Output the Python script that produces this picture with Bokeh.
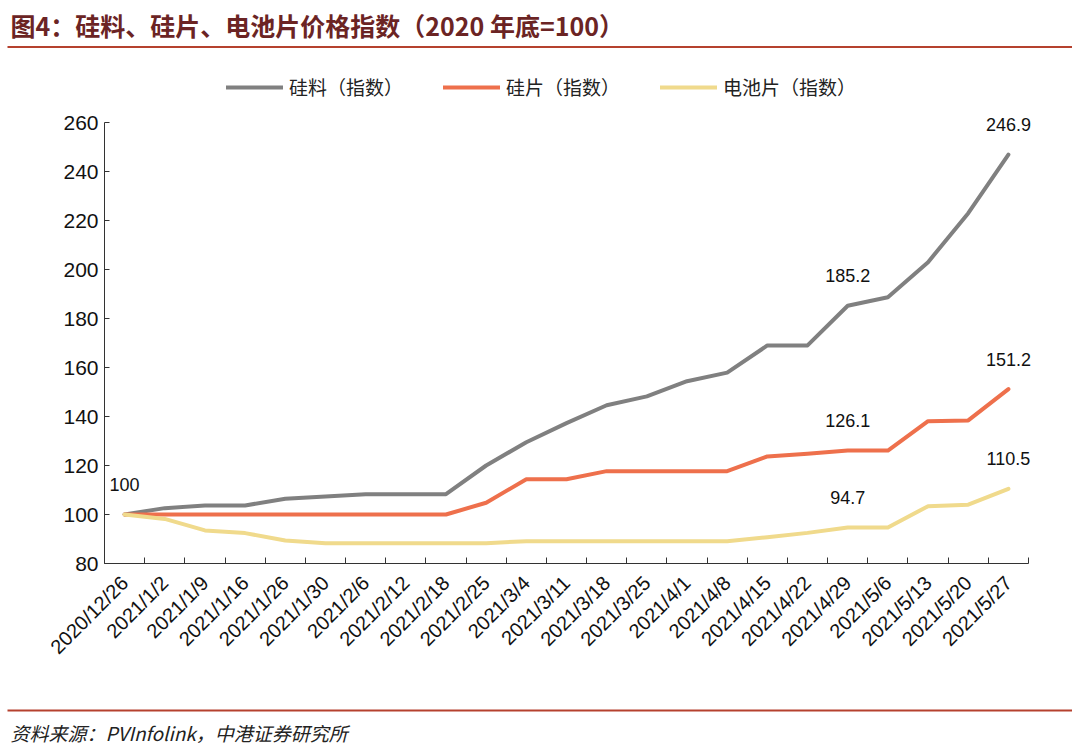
import math
from bokeh.plotting import figure
from bokeh.layouts import column
from bokeh.models import (Range1d, FixedTicker, Label, LabelSet, ColumnDataSource,
                          Legend, LegendItem, BoxAnnotation)
from bokeh.core.properties import value
from bokeh.embed import file_html
from bokeh.resources import INLINE

# ---------------- data ----------------
dates = ["2020/12/26", "2021/1/2", "2021/1/9", "2021/1/16", "2021/1/26", "2021/1/30",
         "2021/2/6", "2021/2/12", "2021/2/18", "2021/2/25", "2021/3/4", "2021/3/11",
         "2021/3/18", "2021/3/25", "2021/4/1", "2021/4/8", "2021/4/15", "2021/4/22",
         "2021/4/29", "2021/5/6", "2021/5/13", "2021/5/20", "2021/5/27"]
polysilicon = [100, 102.6, 103.7, 103.7, 106.4, 107.3, 108.3, 108.3, 108.3, 120.0,
               129.5, 137.3, 144.6, 148.2, 154.4, 157.9, 169.0, 169.0, 185.2, 188.7,
               203.0, 223.0, 246.9]
wafer = [100, 100, 100, 100, 100, 100, 100, 100, 100, 104.8,
         114.4, 114.4, 117.7, 117.7, 117.7, 117.7, 123.7, 124.8, 126.1, 126.1,
         138.1, 138.4, 151.2]
cell = [100, 98.2, 93.5, 92.4, 89.4, 88.3, 88.3, 88.3, 88.3, 88.3,
        89.1, 89.1, 89.1, 89.1, 89.1, 89.1, 90.7, 92.5, 94.7, 94.7,
        103.4, 104.0, 110.5]
series_names = ["硅料（指数）", "硅片（指数）", "电池片（指数）"]
y_ticks = [80, 100, 120, 140, 160, 180, 200, 220, 240, 260]
labelled_points = [18, 22]          # indices annotated with values
title_text = "图4：硅料、硅片、电池片价格指数（2020 年底=100）"
source_text = "资料来源：PVInfolink，中港证券研究所"

# ---------------- style / layout ----------------
colors = ["#808080", "#EE704C", "#F0DA8C"]
TITLE_COLOR = "#6B2424"
RULE_COLOR = "#B5412E"
NUM_FONT = "Liberation Sans"
CJK_FONT = "Noto Sans CJK SC"

W = 1072
HEAD_H, MAIN_H, FOOT_H = 50, 650, 50
AXIS_LEFT, AXIS_RIGHT = 104, 1028      # page x of category axis
AXIS_TOP, AXIS_BOTTOM = 122, 563       # page y of top tick / bottom axis
FRAME_TOP = 60                          # frame extends above top tick to host legend
FRAME_RIGHT = 1060                      # frame extends right so end labels are not clipped


def banner(h):
    f = figure(width=W, height=h, output_backend="svg", toolbar_location=None,
               x_range=Range1d(0, W), y_range=Range1d(h, 0),
               x_axis_type=None, y_axis_type=None,
               min_border=0, min_border_left=0, min_border_right=0,
               min_border_top=0, min_border_bottom=0, frame_align=False)
    f.outline_line_color = None
    f.grid.visible = False
    return f


# ---------------- header ----------------
head = banner(HEAD_H)
head.add_layout(Label(x=10, y=24, text=title_text, text_font=CJK_FONT,
                      text_font_size="25px", text_font_style="bold",
                      text_color=TITLE_COLOR, text_baseline="middle", text_align="left"))
head.add_layout(BoxAnnotation(left=7, right=1072, top=45.5, bottom=47.5,
                              fill_color=RULE_COLOR, fill_alpha=1, line_color=None))

# ---------------- main chart ----------------
n = len(dates)
xs = list(range(n))
x0, x1 = -0.5, n - 0.5
x_right = x1 + (FRAME_RIGHT - AXIS_RIGHT) * (x1 - x0) / (AXIS_RIGHT - AXIS_LEFT)
y0, y1 = y_ticks[0], y_ticks[-1]
y_top = y1 + (AXIS_TOP - FRAME_TOP) * (y1 - y0) / (AXIS_BOTTOM - AXIS_TOP)
p = figure(width=W, height=MAIN_H, output_backend="svg", toolbar_location=None,
           x_range=Range1d(x0, x_right), y_range=Range1d(y0, y_top),
           min_border_left=AXIS_LEFT, min_border_right=W - FRAME_RIGHT,
           min_border_top=FRAME_TOP - HEAD_H,
           min_border_bottom=HEAD_H + MAIN_H - AXIS_BOTTOM,
           frame_align=False)
p.outline_line_color = None
p.grid.visible = False

renderers = []
for vals, c in zip([polysilicon, wafer, cell], colors):
    r = p.line(xs, vals, line_color=c, line_width=4, line_join="round", line_cap="round")
    renderers.append(r)

xa = p.xaxis[0]
xa.ticker = FixedTicker(ticks=xs, minor_ticks=[i - 0.5 for i in range(n + 1)])
xa.bounds = (x0, x1)
xa.major_label_overrides = {i: d for i, d in enumerate(dates)}
xa.major_label_orientation = math.pi / 4
xa.major_tick_line_color = None
xa.minor_tick_in = 6
xa.minor_tick_out = 0
xa.minor_tick_line_color = "#333333"
xa.axis_line_color = "#333333"
xa.major_label_text_font = NUM_FONT
xa.major_label_text_font_size = "20px"
xa.major_label_text_color = "#111111"
xa.major_label_standoff = 10

ya = p.yaxis[0]
ya.ticker = FixedTicker(ticks=y_ticks)
ya.bounds = (y0, y1)
ya.major_tick_in = 5
ya.major_tick_out = 0
ya.minor_tick_line_color = None
ya.axis_line_color = "#333333"
ya.major_tick_line_color = "#333333"
ya.major_label_text_font = NUM_FONT
ya.major_label_text_font_size = "21px"
ya.major_label_text_color = "#111111"
ya.major_label_standoff = 6

lx, ly, lt = [0], [polysilicon[0]], [f"{polysilicon[0]:g}"]
for vals in [polysilicon, wafer, cell]:
    for i in labelled_points:
        lx.append(i)
        ly.append(vals[i])
        lt.append(f"{vals[i]:g}")
lsrc = ColumnDataSource(dict(x=lx, y=ly, t=lt))
p.add_layout(LabelSet(x="x", y="y", text="t", source=lsrc, y_offset=30,
                      text_align="center", text_baseline="middle",
                      text_font=value(NUM_FONT), text_font_size=value("18px"),
                      text_color="#111111"))

legend = Legend(items=[LegendItem(label=nm, renderers=[r]) for nm, r in zip(series_names, renderers)],
                orientation="horizontal", location=(226 - AXIS_LEFT, AXIS_BOTTOM - 100),
                glyph_width=57, glyph_height=20, label_standoff=6, spacing=40,
                padding=0, margin=0, border_line_color=None, background_fill_alpha=0,
                label_text_font=CJK_FONT, label_text_font_size="19px",
                label_text_color="#222222", label_height=20)
p.add_layout(legend)

# ---------------- footer ----------------
foot = banner(FOOT_H)
foot.add_layout(BoxAnnotation(left=7, right=1072, top=9, bottom=11,
                              fill_color=RULE_COLOR, fill_alpha=1, line_color=None))
foot.add_layout(Label(x=10, y=32, text=source_text, text_font=CJK_FONT,
                      text_font_size="19px", text_font_style="italic",
                      text_color="#222222", text_baseline="middle", text_align="left"))

layout = column(head, p, foot, spacing=0)
open("out.html", "w").write(file_html(layout, INLINE))
